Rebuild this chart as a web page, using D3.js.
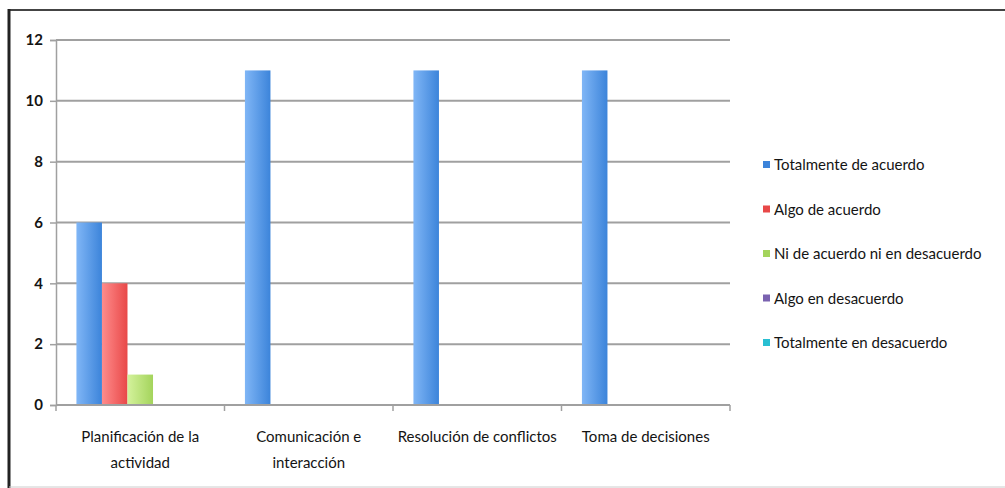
<!DOCTYPE html>
<html>
<head>
<meta charset="utf-8">
<script src="https://cdn.jsdelivr.net/npm/d3@7/dist/d3.min.js"></script>
<style>
  html, body { margin: 0; padding: 0; background: #fff; }
  svg { display: block; }
  text { font-family: Lato, "Open Sans", sans-serif; fill: #141414; }
</style>
</head>
<body>
<svg id="chart" width="1005" height="488"></svg>
<script>
// Survey answers per competence
const categories = [
  ["Planificación de la", "actividad"],
  ["Comunicación e", "interacción"],
  ["Resolución de conflictos"],
  ["Toma de decisiones"]
];
const seriesNames = [
  "Totalmente de acuerdo",
  "Algo de acuerdo",
  "Ni de acuerdo ni en desacuerdo",
  "Algo en desacuerdo",
  "Totalmente en desacuerdo"
];
const totalmenteDeAcuerdo = [6, 11, 11, 11];
const algoDeAcuerdo = [4, 0, 0, 0];
const niDeAcuerdoNiEnDesacuerdo = [1, 0, 0, 0];
const algoEnDesacuerdo = [0, 0, 0, 0];
const totalmenteEnDesacuerdo = [0, 0, 0, 0];
const yTicks = [0, 2, 4, 6, 8, 10, 12];

const seriesValues = [totalmenteDeAcuerdo, algoDeAcuerdo, niDeAcuerdoNiEnDesacuerdo, algoEnDesacuerdo, totalmenteEnDesacuerdo];
const colors = [
  ["#80b6f6", "#3c84da"],
  ["#ff8c8c", "#e84848"],
  ["#d4f29c", "#a4d45c"],
  ["#a58fd0", "#7a62b0"],
  ["#6fe0ee", "#29bfd2"]
];

const svg = d3.select("#chart");

// gradients for the bar fills
const defs = svg.append("defs");
colors.forEach((c, i) => {
  const g = defs.append("linearGradient").attr("id", "grad" + i)
    .attr("x1", "0%").attr("x2", "100%").attr("y1", "0%").attr("y2", "0%");
  g.append("stop").attr("offset", "0%").attr("stop-color", c[0]);
  g.append("stop").attr("offset", "100%").attr("stop-color", c[1]);
});

// outer frame
svg.append("line").attr("x1", 9).attr("x2", 1005).attr("y1", 10).attr("y2", 10)
  .attr("stroke", "#444").attr("stroke-width", 2);
svg.append("line").attr("x1", 9).attr("x2", 9).attr("y1", 9).attr("y2", 488)
  .attr("stroke", "#222").attr("stroke-width", 3);
svg.append("line").attr("x1", 9).attr("x2", 1005).attr("y1", 487).attr("y2", 487)
  .attr("stroke", "#ccc").attr("stroke-width", 1);

const plot = { left: 56, right: 730, top: 40, bottom: 405 };

const x0 = d3.scaleBand().domain(d3.range(categories.length))
  .range([plot.left, plot.right]).paddingInner(0).paddingOuter(0);
const x1 = d3.scaleBand().domain(d3.range(seriesNames.length))
  .range([0, x0.bandwidth()]).paddingOuter(0.8).paddingInner(0);
const y = d3.scaleLinear().domain([0, 12]).range([plot.bottom, plot.top]);

// gridlines
svg.append("g").selectAll("line").data(yTicks).join("line")
  .attr("x1", plot.left).attr("x2", plot.right)
  .attr("y1", d => y(d)).attr("y2", d => y(d))
  .attr("stroke", "#a0a0a0").attr("stroke-width", 2);

// y axis
const yAxis = svg.append("g").attr("transform", `translate(${plot.left},0)`)
  .call(d3.axisLeft(y).tickValues(yTicks).tickSize(6).tickPadding(7));
yAxis.select(".domain").attr("stroke", "#a0a0a0").attr("stroke-width", 1.5);
yAxis.selectAll(".tick line").attr("stroke", "#a0a0a0").attr("stroke-width", 1.5);
yAxis.selectAll(".tick text").style("font-family", "Lato, sans-serif")
  .style("font-size", "15px").style("font-weight", "bold").attr("fill", "#141414");

// bars
const groups = svg.append("g").selectAll("g").data(categories).join("g")
  .attr("transform", (d, i) => `translate(${x0(i)},0)`);
groups.selectAll("rect")
  .data((d, ci) => seriesValues.map((vals, si) => ({ si, v: vals[ci] })))
  .join("rect")
  .attr("x", d => x1(d.si))
  .attr("width", x1.bandwidth())
  .attr("y", d => y(d.v))
  .attr("height", d => y(0) - y(d.v))
  .attr("fill", d => `url(#grad${d.si})`);

// x axis
const xAxis = svg.append("g").attr("transform", `translate(0,${plot.bottom})`);
xAxis.append("line").attr("x1", plot.left).attr("x2", plot.right)
  .attr("stroke", "#a0a0a0").attr("stroke-width", 2);
xAxis.selectAll("line.tk").data(d3.range(categories.length + 1)).join("line")
  .attr("class", "tk")
  .attr("x1", i => i < categories.length ? x0(i) : plot.right)
  .attr("x2", i => i < categories.length ? x0(i) : plot.right)
  .attr("y1", 0).attr("y2", 6)
  .attr("stroke", "#a0a0a0").attr("stroke-width", 1.5);

// category labels
const labels = svg.append("g").selectAll("text").data(categories).join("text")
  .attr("text-anchor", "middle")
  .attr("x", (d, i) => x0(i) + x0.bandwidth() / 2)
  .attr("y", 442)
  .style("font-size", "15px");
labels.selectAll("tspan").data(d => d).join("tspan")
  .attr("x", function () { return d3.select(this.parentNode).attr("x"); })
  .attr("dy", (d, i) => i === 0 ? 0 : 26)
  .text(d => d);

// legend
const legend = svg.append("g").selectAll("g").data(seriesNames).join("g")
  .attr("transform", (d, i) => `translate(763,${165 + i * 44.5})`);
legend.append("rect").attr("x", 0).attr("y", -4).attr("width", 7).attr("height", 7)
  .attr("fill", (d, i) => colors[i][1]);
legend.append("text").attr("x", 11).attr("y", 0).attr("dy", "0.35em")
  .style("font-size", "15px").text(d => d);
</script>
</body>
</html>
